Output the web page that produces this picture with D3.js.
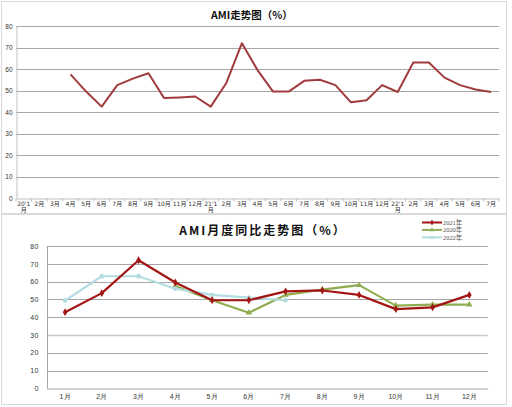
<!DOCTYPE html>
<html><head><meta charset="utf-8">
<script src="https://cdn.jsdelivr.net/npm/d3@7"></script>
<style>
html,body{margin:0;padding:0;background:#fff;}
svg{display:block;font-family:"DejaVu Sans","Noto Sans CJK SC",sans-serif;}
</style></head>
<body>
<svg id="c" width="512" height="407"></svg>
<script>
// ---- Top chart data ----
const topCategories = ["20'1|月","2月","3月","4月","5月","6月","7月","8月","9月","10月","11月","12月",
  "21'1|月","2月","3月","4月","5月","6月","7月","8月","9月","10月","11月","12月",
  "22'1|月","2月","3月","4月","5月","6月","7月"];
const topValues = [null,null,null,57.5,49.5,42.5,52.5,55.5,58,46.5,46.8,47.2,
  42.5,53.5,72,59.5,49.5,49.5,54.5,55,52.5,44.5,45.5,52.5,
  49.3,63,63,56,52.5,50.5,49.3];
const yTicks = [0,10,20,30,40,50,60,70,80];

// ---- Bottom chart data ----
const months = ["1月","2月","3月","4月","5月","6月","7月","8月","9月","10月","11月","12月"];
const series2021 = [42.8,53.5,72,59.5,49.5,49.5,54.5,55,52.5,44.5,45.5,52.5];
const series2020 = [null,null,null,57.5,49.5,42.5,52.5,55.5,58,46.5,47,47];
const series2022 = [49.3,63,63,56,52.5,51,49.5,null,null,null,null,null];
const legendNames = ["2021年","2020年","2022年"];

const svg = d3.select("#c");
// frames
svg.append("rect").attr("x",1.5).attr("y",1.5).attr("width",505).attr("height",212)
  .attr("fill","#fff").attr("stroke","#d9d9d9");
svg.append("rect").attr("x",1.5).attr("y",214.5).attr("width",505).attr("height",190)
  .attr("fill","#fff").attr("stroke","#d9d9d9");

// ===== TOP =====
{
  const x = d3.scaleBand().domain(d3.range(topCategories.length)).range([16,499]);
  const y = d3.scaleLinear().domain([0,80]).range([198,26]);
  const g = svg.append("g");
  g.selectAll(".grid").data(yTicks.filter(d=>d>0)).join("line")
    .attr("x1",16).attr("x2",499).attr("y1",d=>Math.round(y(d))+0.5).attr("y2",d=>Math.round(y(d))+0.5)
    .attr("stroke","#a6a6a6").attr("stroke-width",1);
  const ya = d3.axisLeft(y).tickValues(yTicks).tickSize(0).tickPadding(4);
  const yg = g.append("g").attr("transform","translate(16.5,0)").call(ya);
  yg.select(".domain").attr("stroke","#bfbfbf");
  yg.selectAll("text").attr("font-size",6.5).attr("fill","#333");
  const xa = d3.axisBottom(x).tickSize(0).tickFormat("");
  const xg = g.append("g").attr("transform","translate(0,198.5)").call(xa);
  xg.select(".domain").attr("stroke","#bfbfbf");
  // tick marks between categories
  g.selectAll(".tk").data(d3.range(topCategories.length+1)).join("line")
    .attr("x1",i=>x(0)+i*x.step()).attr("x2",i=>x(0)+i*x.step())
    .attr("y1",198.5).attr("y2",201.5).attr("stroke","#bfbfbf");
  topCategories.forEach((c,i)=>{
    const parts = c.split("|");
    const t = g.append("text").attr("x",x(i)+x.bandwidth()/2).attr("y",206)
      .attr("text-anchor","middle").attr("font-size",6).attr("fill","#333");
    parts.forEach((p,j)=>t.append("tspan").attr("x",x(i)+x.bandwidth()/2).attr("dy",j?5.5:0).text(p));
  });
  const line = d3.line().defined(d=>d!=null).x((d,i)=>x(i)+x.bandwidth()/2).y(d=>y(d));
  g.append("path").datum(topValues).attr("d",line).attr("fill","none")
    .attr("stroke","#a23b3d").attr("stroke-width",2).attr("stroke-linejoin","round");
  g.append("text").attr("x",252).attr("y",19).attr("text-anchor","middle")
    .attr("font-size",10.5).attr("font-weight","bold").attr("fill","#111")
    .attr("font-family","'Noto Sans CJK SC',sans-serif").text("AMI走势图（%）");
}

// ===== BOTTOM =====
{
  const x = d3.scaleBand().domain(d3.range(months.length)).range([46.7,487.7]);
  const y = d3.scaleLinear().domain([0,80]).range([388.3,246]);
  const g = svg.append("g");
  g.selectAll(".grid").data(yTicks.filter(d=>d>0)).join("line")
    .attr("x1",46.7).attr("x2",487.7).attr("y1",d=>Math.round(y(d))+0.5).attr("y2",d=>Math.round(y(d))+0.5)
    .attr("stroke",d=>d===30?"#c8c8c8":"#a6a6a6").attr("stroke-width",d=>d===30?1.6:1);
  const ya = d3.axisLeft(y).tickValues(yTicks).tickSize(0).tickPadding(8);
  const yg = g.append("g").attr("transform","translate(47,0)").call(ya);
  yg.select(".domain").attr("stroke","#a6a6a6");
  yg.selectAll("text").attr("font-size",7).attr("fill","#333").attr("letter-spacing",0.5);
  const xa = d3.axisBottom(x).tickSize(0).tickPadding(6).tickFormat(i=>months[i]);
  const xg = g.append("g").attr("transform","translate(0,388.5)").call(xa);
  xg.select(".domain").attr("stroke","#a6a6a6");
  xg.selectAll("text").attr("font-size",7).attr("fill","#333");

  const cx = i=>x(i)+x.bandwidth()/2;
  const line = d3.line().defined(d=>d!=null).x((d,i)=>cx(i)).y(d=>y(d));
  const S = [
    {v:series2020, c:"#8fad50", sym:d3.symbolTriangle, name:legendNames[1]},
    {v:series2022, c:"#b3dde0", sym:d3.symbolCircle, name:legendNames[2]},
    {v:series2021, c:"#a31515", sym:d3.symbolDiamond, name:legendNames[0]},
  ];
  S.forEach(s=>{
    g.append("path").datum(s.v).attr("d",line).attr("fill","none")
      .attr("stroke",s.c).attr("stroke-width",2.2).attr("stroke-linejoin","round");
    g.selectAll(null).data(s.v.map((d,i)=>[d,i]).filter(d=>d[0]!=null)).join("path")
      .attr("d",d3.symbol().type(s.sym).size(18))
      .attr("transform",d=>`translate(${cx(d[1])},${y(d[0])})`).attr("fill",s.c);
  });
  // legend
  const leg = [{c:"#a31515",sym:d3.symbolDiamond,n:legendNames[0]},
               {c:"#8fad50",sym:d3.symbolTriangle,n:legendNames[1]},
               {c:"#b3dde0",sym:d3.symbolCircle,n:legendNames[2]}];
  leg.forEach((l,i)=>{
    const yy = 222.5+i*7.4;
    g.append("line").attr("x1",422).attr("x2",442).attr("y1",yy).attr("y2",yy)
      .attr("stroke",l.c).attr("stroke-width",2);
    g.append("path").attr("d",d3.symbol().type(l.sym).size(10)).attr("transform",`translate(432,${yy})`).attr("fill",l.c);
    g.append("text").attr("x",443).attr("y",yy+2.4).attr("font-size",6.4).attr("fill","#555")
      .attr("font-family","'Liberation Serif','Noto Sans CJK SC',serif").text(l.n);
  });
  g.append("text").attr("x",263).attr("y",235).attr("text-anchor","middle")
    .attr("font-size",12).attr("font-weight","bold").attr("fill","#111").attr("letter-spacing",2)
    .attr("font-family","'Noto Sans CJK SC',sans-serif").text("AMI月度同比走势图（%）");
}
</script>
</body></html>
